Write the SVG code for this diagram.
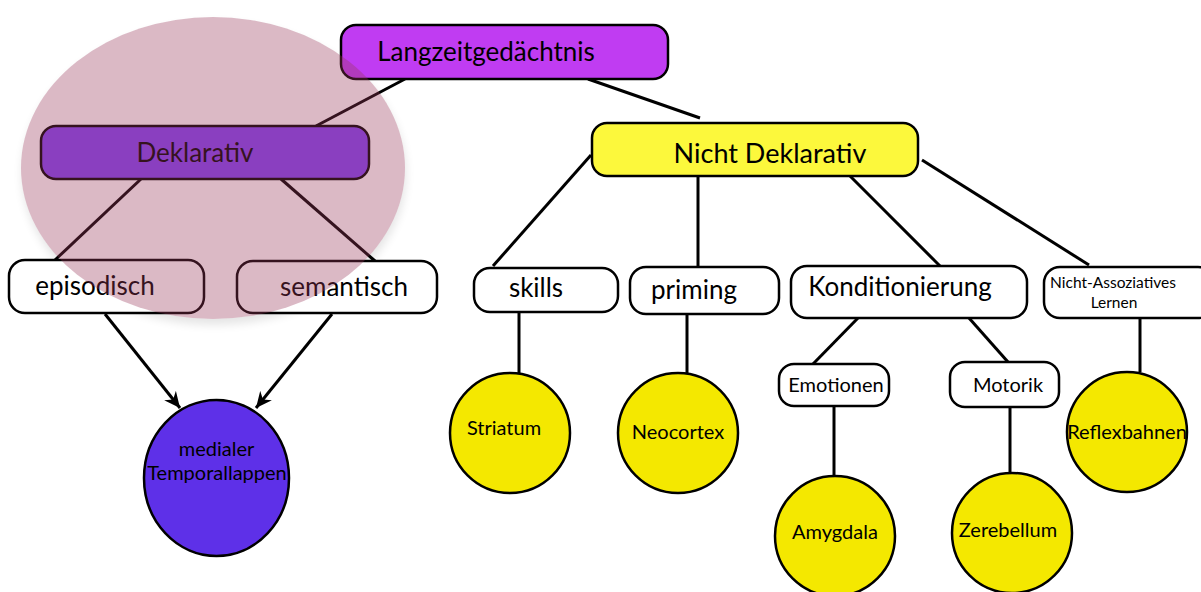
<svg xmlns="http://www.w3.org/2000/svg" width="1201" height="592" viewBox="0 0 1201 592">
<style>
text{font-family:Lato,"Liberation Sans",sans-serif;fill:#000;text-anchor:middle}
.box{stroke:#000;stroke-width:2.5}
.w{fill:#fff}
.circ{fill:#f4e800;stroke:#000;stroke-width:2.5}
.con{stroke:#000;stroke-width:3;fill:none}
.big{font-size:26px}
.mid{font-size:26px}
.sm{font-size:20px}
.xs{font-size:15.5px}
</style>
<defs>
<marker id="arr" viewBox="-16 -8 17 16" refX="0" refY="0" markerWidth="17" markerHeight="16" markerUnits="userSpaceOnUse" orient="auto">
<path d="M0,0 L-16,-7.5 L-11,0 L-16,7.5 Z" fill="#000"/>
</marker>
<filter id="blur" x="-20%" y="-20%" width="140%" height="140%"><feGaussianBlur stdDeviation="5"/></filter>
</defs>
<rect width="1201" height="592" fill="#fff"/>
<ellipse cx="214" cy="174" rx="192" ry="151" fill="#000" opacity="0.1" filter="url(#blur)"/>
<ellipse cx="213" cy="168" rx="192" ry="151" fill="#fff"/>
<g id="connectors">
<line class="con" x1="405" y1="79" x2="316" y2="126"/>
<line class="con" x1="588" y1="79" x2="700" y2="118"/>
<line class="con" x1="141" y1="179" x2="55" y2="260"/>
<line class="con" x1="281" y1="179" x2="375" y2="261"/>
<line class="con" x1="591" y1="155" x2="493" y2="266"/>
<line class="con" x1="698" y1="176" x2="698" y2="267"/>
<line class="con" x1="850" y1="176" x2="940" y2="266"/>
<line class="con" x1="922" y1="160" x2="1089" y2="265"/>
<line class="con" x1="519" y1="312" x2="519" y2="373"/>
<line class="con" x1="687" y1="314" x2="687" y2="373"/>
<line class="con" x1="858" y1="318" x2="813" y2="364"/>
<line class="con" x1="969" y1="318" x2="1008" y2="362"/>
<line class="con" x1="834" y1="406" x2="834" y2="476"/>
<line class="con" x1="1010" y1="407" x2="1010" y2="473"/>
<line class="con" x1="1140" y1="318" x2="1140" y2="372"/>
<line class="con" x1="105" y1="314" x2="180" y2="408" marker-end="url(#arr)"/>
<line class="con" x1="332" y1="314" x2="256" y2="408" marker-end="url(#arr)"/>
</g>
<g id="langzeit"><rect class="box" x="341" y="25" width="327" height="54" rx="15" fill="#c03cf2"/><text class="big" x="486" y="61">Langzeitgedächtnis</text></g>
<g id="deklarativ"><rect class="box" x="41" y="126" width="328" height="53" rx="15" fill="#8344f8"/><text class="big" x="195" y="162">Deklarativ</text></g>
<g id="nichtdeklarativ"><rect class="box" x="592" y="123" width="326" height="53" rx="15" fill="#fcf83c"/><text class="big" x="770" y="163" style="font-size:27px">Nicht Deklarativ</text></g>
<g id="episodisch"><rect class="box w" x="9" y="260" width="195" height="53" rx="16"/><text class="mid" x="95" y="295">episodisch</text></g>
<g id="semantisch"><rect class="box w" x="237" y="261" width="200" height="52" rx="16"/><text class="mid" x="344" y="296">semantisch</text></g>
<g id="skills"><rect class="box w" x="474" y="268" width="144" height="44" rx="16"/><text class="mid" x="536" y="297">skills</text></g>
<g id="priming"><rect class="box w" x="630" y="267" width="149" height="47" rx="16"/><text class="mid" x="694" y="299">priming</text></g>
<g id="konditionierung"><rect class="box w" x="791" y="266" width="236" height="52" rx="16"/><text class="mid" x="900" y="296">Konditionierung</text></g>
<g id="nichtassoz"><rect class="box w" x="1044" y="267" width="170" height="51" rx="16"/><text class="xs" x="1113" y="288">Nicht-Assoziatives</text><text class="xs" x="1114" y="308">Lernen</text></g>
<g id="emotionen"><rect class="box w" x="779" y="364" width="110" height="42" rx="15"/><text class="sm" x="836" y="392">Emotionen</text></g>
<g id="motorik"><rect class="box w" x="950" y="362" width="109" height="45" rx="15"/><text class="sm" x="1008" y="392">Motorik</text></g>
<g id="striatum"><ellipse class="circ" cx="510" cy="433" rx="60" ry="60"/><text class="sm" x="504" y="435">Striatum</text></g>
<g id="neocortex"><ellipse class="circ" cx="678" cy="433" rx="60" ry="60"/><text class="sm" x="678" y="439">Neocortex</text></g>
<g id="amygdala"><ellipse class="circ" cx="835" cy="536" rx="60" ry="60"/><text class="sm" x="835" y="539">Amygdala</text></g>
<g id="zerebellum"><ellipse class="circ" cx="1012" cy="533" rx="60" ry="60"/><text class="sm" x="1008" y="537">Zerebellum</text></g>
<g id="reflexbahnen"><ellipse class="circ" cx="1127" cy="432" rx="60" ry="60"/><text class="sm" x="1127" y="439">Reflexbahnen</text></g>
<g id="temporallappen"><ellipse cx="216.5" cy="478" rx="72.5" ry="78" fill="#5e30e8" stroke="#000" stroke-width="2.5"/><text class="sm" x="216.5" y="456">medialer</text><text class="sm" x="217" y="480">Temporallappen</text></g>
<ellipse id="highlight" cx="213" cy="168" rx="192" ry="151" fill="#983759" opacity="0.35"/>
</svg>
